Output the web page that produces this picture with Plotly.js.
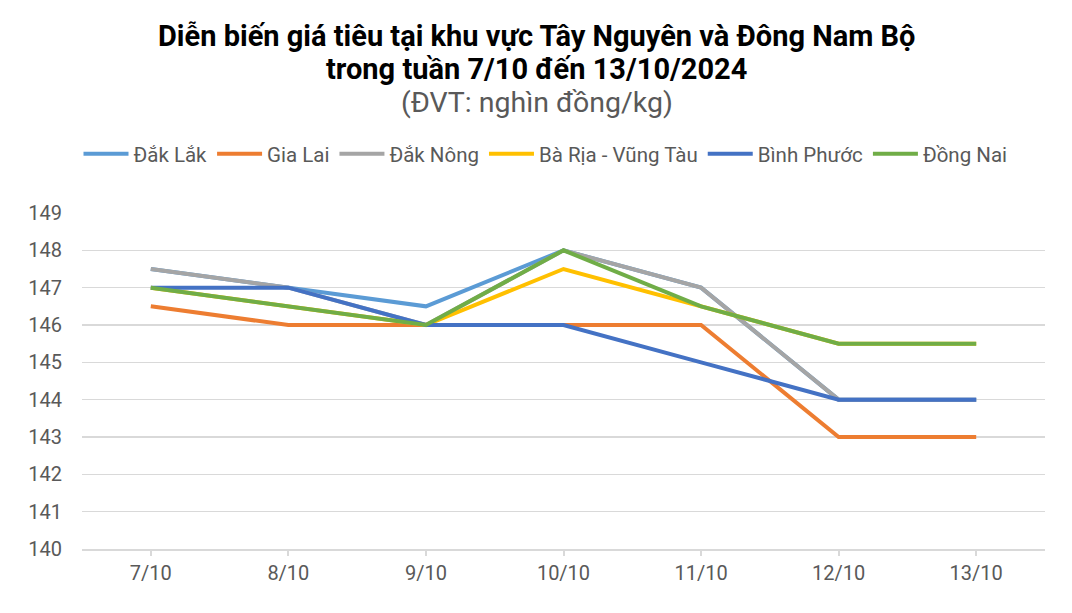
<!DOCTYPE html>
<html>
<head>
<meta charset="utf-8">
<script src="https://cdn.plot.ly/plotly-3.0.1.min.js"></script>
<style>html,body{margin:0;padding:0;background:#fff;}#chart{width:1072px;height:613px;}</style>
</head>
<body>
<div id="chart"></div>
<script>
const categories = ["7/10", "8/10", "9/10", "10/10", "11/10", "12/10", "13/10"];
const seriesNames = ["Đắk Lắk", "Gia Lai", "Đắk Nông", "Bà Rịa - Vũng Tàu", "Bình Phước", "Đồng Nai"];
const dakLak   = [147.5, 147, 146.5, 148, 147, 144, 144];
const giaLai   = [146.5, 146, 146, 146, 146, 143, 143];
const dakNong  = [147.5, 147, 146, 148, 147, 144, 144];
const brvt     = [147, 146.5, 146, 147.5, 146.5, 145.5, 145.5];
const binhPhuoc= [147, 147, 146, 146, 145, 144, 144];
const dongNai  = [147, 146.5, 146, 148, 146.5, 145.5, 145.5];
const seriesValues = [dakLak, giaLai, dakNong, brvt, binhPhuoc, dongNai];
const colors = ["#5B9BD5", "#ED7D31", "#A5A5A5", "#FFC000", "#4472C4", "#70AD47"];
const titleLines = ["Diễn biến giá tiêu tại khu vực Tây Nguyên và Đông Nam Bộ", "trong tuần 7/10 đến 13/10/2024", "(ĐVT: nghìn đồng/kg)"];

const traces = seriesNames.map((name, i) => ({
  type: "scatter",
  mode: "lines",
  name: name,
  x: categories,
  y: seriesValues[i],
  line: {color: colors[i], width: 4, shape: "linear"},
  hoverinfo: "x+y+name"
}));

// plot area: left 82px, width 963px, top 213px, bottom 549px
const pxToPaperY = py => (549 - py) / 336;
const pxToPaperX = px => (px - 82) / 963;

const annotations = [
  {text: "<b>" + titleLines[0] + "</b>", y: pxToPaperY(36), font: {size: 29, color: "#000000"}},
  {text: "<b>" + titleLines[1] + "</b>", y: pxToPaperY(69), font: {size: 29, color: "#000000"}},
  {text: titleLines[2], y: pxToPaperY(102), font: {size: 28.5, color: "#595959"}}
].map(a => Object.assign({
  xref: "paper", yref: "paper", x: pxToPaperX(536.5),
  xanchor: "center", yanchor: "middle", showarrow: false
}, a));

const layout = {
  width: 1072,
  height: 613,
  paper_bgcolor: "#ffffff",
  plot_bgcolor: "#ffffff",
  margin: {l: 82, r: 27, t: 213, b: 64},
  font: {family: "Roboto, Arial, sans-serif", color: "#595959"},
  annotations: annotations,
  showlegend: true,
  legend: {
    orientation: "h",
    x: pxToPaperX(545.5),
    xanchor: "center",
    y: pxToPaperY(154),
    yanchor: "middle",
    font: {size: 20.5, color: "#595959"},
    itemwidth: 45,
    tracegroupgap: 0
  },
  xaxis: {
    type: "category",
    range: [-0.5, 6.5],
    showgrid: false,
    showline: true,
    linecolor: "#D9D9D9",
    linewidth: 2,
    ticks: "outside",
    ticklen: 5,
    tickcolor: "#D9D9D9",
    tickwidth: 2,
    tickfont: {size: 20, color: "#595959"},
    zeroline: false,
    fixedrange: true
  },
  yaxis: {
    range: [140, 149],
    dtick: 1,
    tick0: 140,
    showgrid: true,
    gridcolor: "#D9D9D9",
    gridwidth: 1.3,
    showline: false,
    zeroline: false,
    ticks: "",
    ticklabelstandoff: 19,
    tickfont: {size: 20, color: "#595959"},
    fixedrange: true
  }
};

Plotly.newPlot("chart", traces, layout, {displayModeBar: false, staticPlot: true});
</script>
</body>
</html>
